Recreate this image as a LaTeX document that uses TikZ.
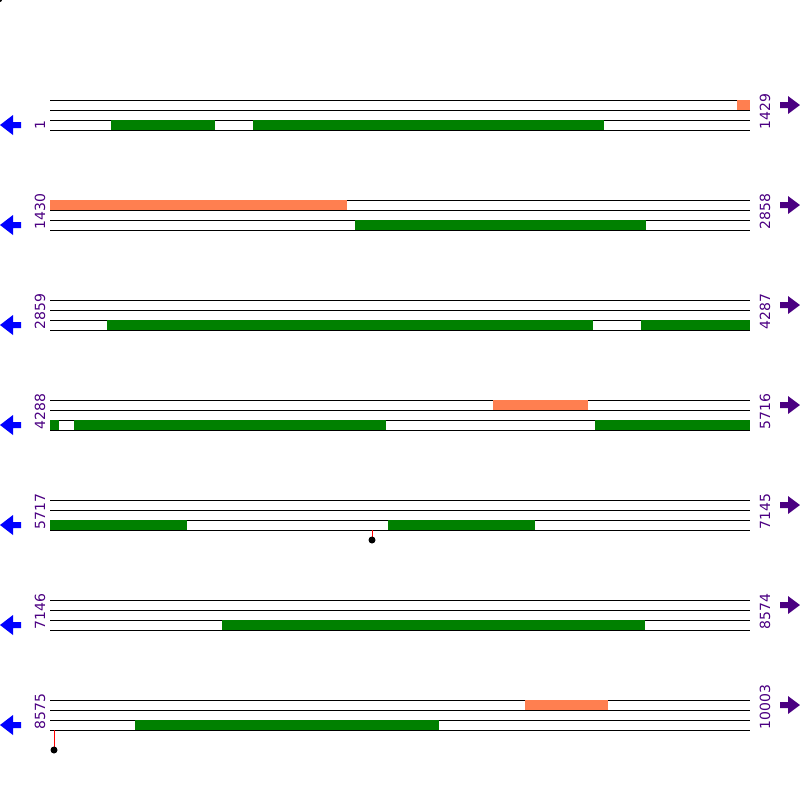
\documentclass[tikz,border=0pt]{standalone}
\usepackage{fontspec}
\setmainfont{DejaVu Sans}
\usetikzlibrary{arrows.meta}
\definecolor{cdsgreen}{RGB}{0,128,0}
\definecolor{orfcoral}{RGB}{255,127,80}
\definecolor{posindigo}{RGB}{75,0,130}
\tikzset{
  track/.style={line width=0.5pt},
  cds/.style={fill=cdsgreen},
  orf/.style={fill=orfcoral},
  poslabel/.style={rotate=90,anchor=west,inner sep=0pt,text=posindigo,font=\fontsize{7}{7}\selectfont},
  revarrow/.style={fill=blue},
  fwdarrow/.style={fill=posindigo},
  sitemark/.style={red,line width=0.5pt}
}
\begin{document}
\begin{tikzpicture}[x=0.5pt,y=-0.5pt]
    \useasboundingbox (0,0) rectangle (800,800);
    \fill (0,0) circle (2); %corner dot
    \foreach \r/\s/\e in {1/1/1429,2/1430/2858,3/2859/4287,4/4288/5716,5/5717/7145,6/7146/8574,7/8575/10003}
    {
    \pgfmathsetmacro\y{100*\r}
    \foreach \d in {0,10,20,30}
    \draw[track] (50,\y+\d) -- (750,\y+\d);
    \node[poslabel] at (40,\y+30) {\s};
    \node[poslabel] at (765,\y+30) {\e};
    \fill[revarrow] (0,\y+25) -- (13,\y+15) -- (13,\y+22) -- (21,\y+22) -- (21,\y+28) -- (13,\y+28) -- (13,\y+35) -- cycle;
    \fill[fwdarrow] (800,\y+5) -- (788,\y-4) -- (788,\y+2) -- (780,\y+2) -- (780,\y+8) -- (788,\y+8) -- (788,\y+14) -- cycle;
    }
    % reading frames
    \foreach \a/\b/\y in {737/750/100,50/347/200,493/588/400,525/608/700}
    \fill[orf] (\a,\y) rectangle (\b,\y+10);
    \foreach \a/\b/\y in {111/215/120,253/604/120,355/646/220,107/593/320,641/750/320,
                          50/59/420,74/386/420,595/750/420,50/187/520,388/535/520,
                          222/645/620,135/439/720}
    \fill[cds] (\a,\y) rectangle (\b,\y+10);
    % sites
    \foreach \x/\y/\l in {372/530/10,54/730/20}
    {
    \draw[sitemark] (\x,\y) -- (\x,\y+\l);
    \fill (\x,\y+\l) circle (3.5);
    }
\end{tikzpicture}
\end{document}
